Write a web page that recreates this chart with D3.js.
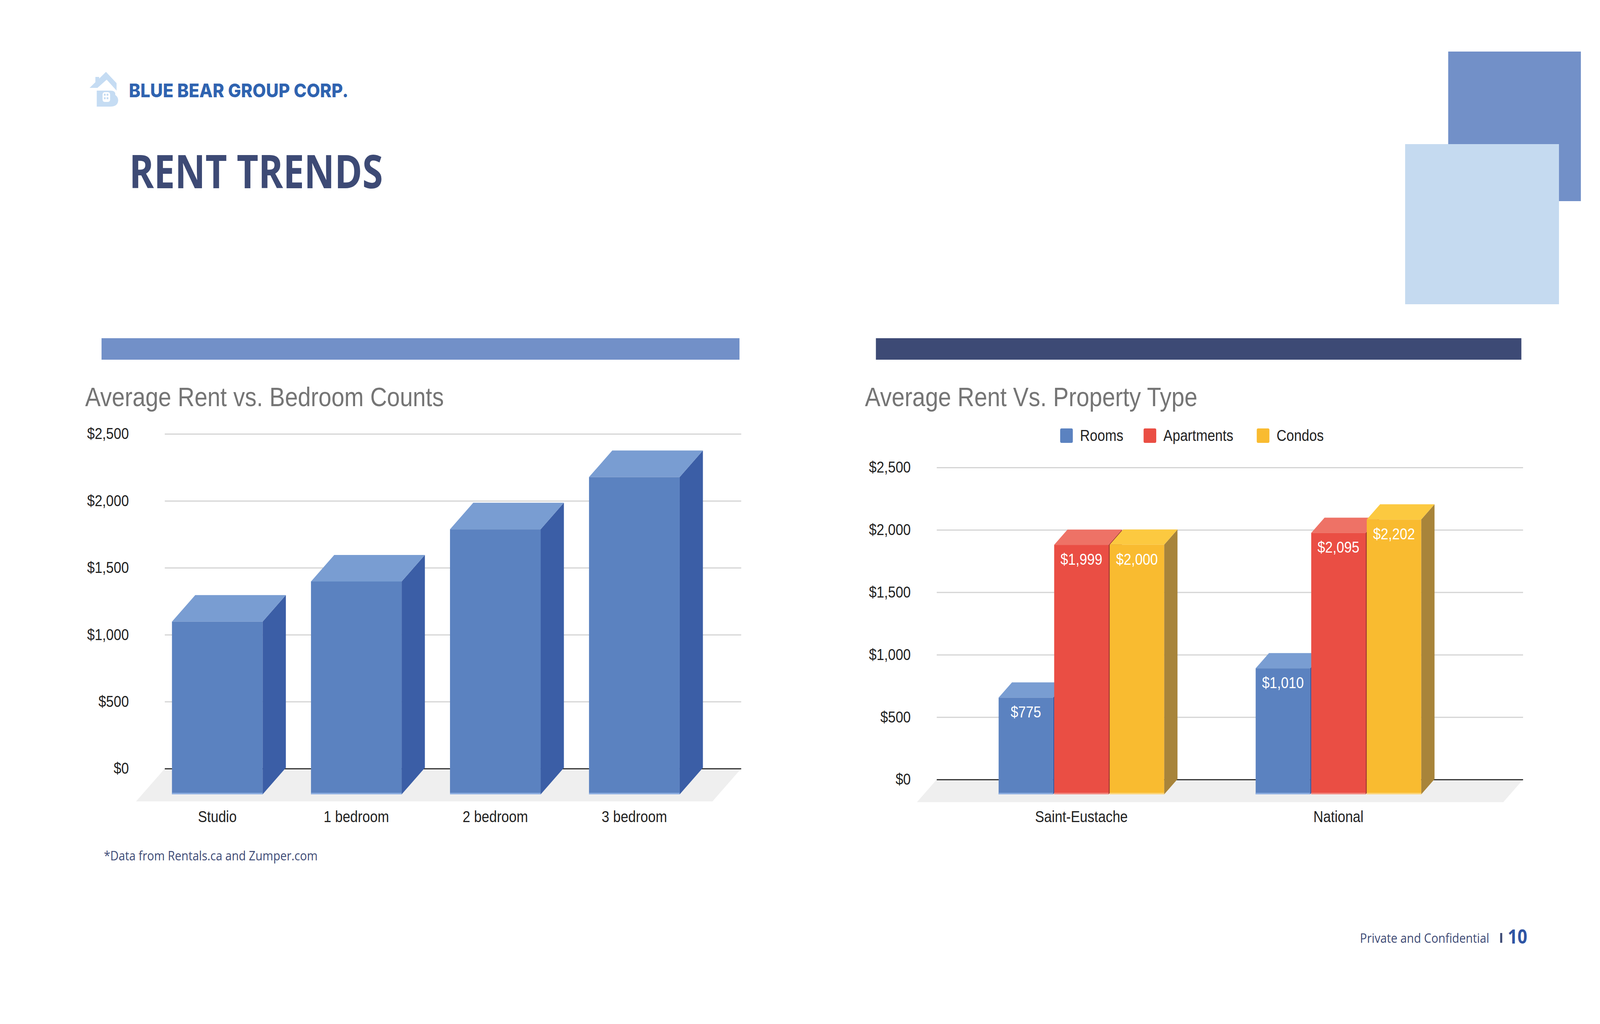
<!DOCTYPE html>
<html>
<head>
<meta charset="utf-8">
<script src="https://cdn.jsdelivr.net/npm/d3@7"></script>
<style>
html,body{margin:0;padding:0;background:#fff;overflow:hidden}
#chart svg{display:block;width:100vw;height:100vh}
</style>
</head>
<body>
<div id="chart"></div>
<script>
const W = 4680, H = 2622;

// data
const bedrooms = ["Studio", "1 bedroom", "2 bedroom", "3 bedroom"];
const bedroomRent = [1290, 1590, 1980, 2370];

const places = ["Saint-Eustache", "National"];
const types = ["Rooms", "Apartments", "Condos"];
const rooms = [775, 1010];
const apartments = [1999, 2095];
const condos = [2000, 2202];

const rentTicks = [0, 500, 1000, 1500, 2000, 2500];

const FONT = "'Liberation Sans', Arial, sans-serif";
const money = d3.format("$,");

// the slide fills the whole window
const svg = d3.select("#chart").append("svg")
  .attr("viewBox", `0 0 ${W} ${H}`)
  .attr("preserveAspectRatio", "none");

svg.append("rect").attr("width", W).attr("height", H).attr("fill", "#fff");

// ---- slide decoration ----
svg.append("rect").attr("x", 4236).attr("y", 132).attr("width", 388).attr("height", 383).attr("fill", "#7290c8");
svg.append("rect").attr("x", 4110).attr("y", 369).attr("width", 450).attr("height", 410).attr("fill", "#c5daf0");
svg.append("rect").attr("x", 297).attr("y", 866).attr("width", 1866).attr("height", 55).attr("fill", "#7290c8");
svg.append("rect").attr("x", 2562).attr("y", 866).attr("width", 1888).attr("height", 55).attr("fill", "#3d4a75");

// logo: house roof over a "B"
const logo = svg.append("g").attr("fill", "#c5dcf3");
logo.append("polygon").attr("points", "262,225 310,184 341,213 341,232 312,204 285,225");
logo.append("rect").attr("x", 279).attr("y", 197).attr("width", 11).attr("height", 16);
logo.append("path").attr("d", "M283,232 H322 Q339,232 337,243 Q348,250 345,261 Q342,273 322,273 H283 Z");
logo.append("rect").attr("x", 300).attr("y", 236).attr("width", 22).attr("height", 25).attr("rx", 6).attr("fill", "#fff");
[[304, 240], [312, 240], [304, 249], [312, 249]].forEach(p =>
  logo.append("rect").attr("x", p[0]).attr("y", p[1]).attr("width", 5).attr("height", 5).attr("fill", "#c5dcf3"));

svg.append("text").attr("x", 377).attr("y", 249)
  .attr("font-family", "Inter, 'Open Sans', sans-serif").attr("font-weight", 800)
  .attr("font-size", 48).attr("fill", "#2f63b0")
  .attr("textLength", 642).attr("lengthAdjust", "spacingAndGlyphs")
  .text("BLUE BEAR GROUP CORP.");

svg.append("text").attr("x", 378).attr("y", 482)
  .attr("font-family", "'Open Sans', sans-serif").attr("font-weight", 700)
  .attr("font-size", 118).attr("fill", "#3d4a75")
  .attr("textLength", 742).attr("lengthAdjust", "spacingAndGlyphs")
  .text("RENT TRENDS");

svg.append("text").attr("x", 304).attr("y", 2203)
  .attr("font-family", "'Open Sans', sans-serif").attr("font-size", 32).attr("fill", "#3d4a75")
  .attr("textLength", 625).attr("lengthAdjust", "spacingAndGlyphs")
  .text("*Data from Rentals.ca and Zumper.com");

svg.append("text").attr("x", 3978).attr("y", 2414)
  .attr("font-family", "'Open Sans', sans-serif").attr("font-size", 33).attr("fill", "#3d4a75")
  .attr("textLength", 378).attr("lengthAdjust", "spacingAndGlyphs")
  .text("Private and Confidential");
svg.append("rect").attr("x", 4388).attr("y", 2389).attr("width", 6).attr("height", 25).attr("fill", "#3d4a75");
svg.append("text").attr("x", 4410).attr("y", 2416)
  .attr("font-family", "'Open Sans', sans-serif").attr("font-weight", 700)
  .attr("font-size", 50).attr("fill", "#2f55a4").text("10");

// ---- helpers ----
function bar3d(g, x, w, yTop, yBot, d, c) {
  g.append("polygon")
    .attr("points", [[x + w, yTop], [x + w + d, yTop - d], [x + w + d, yBot - d], [x + w, yBot]].join(" "))
    .attr("fill", c.side);
  g.append("polygon")
    .attr("points", [[x, yTop], [x + d, yTop - d], [x + w + d, yTop - d], [x + w, yTop]].join(" "))
    .attr("fill", c.top);
  g.append("rect").attr("x", x).attr("y", yTop).attr("width", w).attr("height", yBot - yTop).attr("fill", c.front);
  g.append("rect").attr("x", x).attr("y", yBot - 4).attr("width", w).attr("height", 4).attr("fill", c.edge);
}

function frame(g, y, gx0, gx1, floorDepth, pad) {
  const y0 = y(0);
  g.append("polygon")
    .attr("points", [[gx0, y0], [gx1, y0], [gx1 - floorDepth, y0 + floorDepth], [gx0 - floorDepth, y0 + floorDepth]].join(" "))
    .attr("fill", "#efefef");
  const ax = g.append("g").attr("transform", `translate(${gx0},0)`)
    .call(d3.axisLeft(y).tickValues(rentTicks).tickFormat(money).tickSize(-(gx1 - gx0)).tickPadding(pad));
  ax.select(".domain").remove();
  ax.selectAll(".tick line").attr("stroke", d => d === 0 ? "#333" : "#d4d4d4").attr("stroke-width", 3);
  ax.selectAll(".tick text").attr("font-family", FONT).attr("font-size", 40).attr("fill", "#222");
}

function catAxis(g, x, yBase) {
  const ax = g.append("g").attr("transform", `translate(0,${yBase})`)
    .call(d3.axisBottom(x).tickSize(0).tickPadding(0));
  ax.select(".domain").remove();
  ax.selectAll(".tick text").attr("y", 0).attr("dy", 0)
    .attr("font-family", FONT).attr("font-size", 40).attr("fill", "#222");
}

function title(g, x, y, t) {
  g.append("text").attr("x", x).attr("y", y)
    .attr("font-family", FONT).attr("font-size", 68).attr("fill", "#757575").text(t);
}

const blue = {front: "#5b82c0", top: "#799dd2", side: "#3b5ea6", edge: "#8eaee0"};
const red = {front: "#ea4e44", top: "#ee7266", side: "#a83a32", edge: "#f28a82"};
const gold = {front: "#f9bb30", top: "#fcc940", side: "#a8843a", edge: "#fcd57a"};

// ---- chart 1: bedrooms ----
const g1 = svg.append("g");
title(g1, 249, 1040, "Average Rent vs. Bedroom Counts");

const y1 = d3.scaleLinear().domain([0, 2500]).range([1968, 1111]);
frame(g1, y1, 482, 2168, 84, 105);

const x1 = d3.scaleBand().domain(bedrooms).range([503, 1988]).paddingInner(0.348).paddingOuter(0);
const zf1 = 66, d1 = 68;
bedrooms.forEach((b, i) => {
  bar3d(g1, x1(b), x1.bandwidth(), y1(bedroomRent[i]) + zf1, y1(0) + zf1, d1, blue);
});
catAxis(g1, x1, 2105);

// ---- chart 2: property type ----
const g2 = svg.append("g");
title(g2, 2530, 1040, "Average Rent Vs. Property Type");

// legend
const legendColors = [blue, red, gold];
const legendX = [3101, 3345, 3676];
types.forEach((t, i) => {
  g2.append("rect").attr("x", legendX[i]).attr("y", 1097).attr("width", 37).attr("height", 37)
    .attr("rx", 4).attr("fill", legendColors[i].front);
  g2.append("text").attr("x", legendX[i] + 58).attr("y", 1129)
    .attr("font-family", FONT).attr("font-size", 40).attr("fill", "#222").text(t);
});

const y2 = d3.scaleLinear().domain([0, 2500]).range([1996, 1197]);
frame(g2, y2, 2740, 4455, 58, 76);

const x2 = d3.scaleBand().domain(places).range([2921, 4157]).paddingInner(0.356).paddingOuter(0);
const xs = d3.scaleBand().domain(types).range([0, x2.bandwidth()]).paddingInner(0.02);
const series = [rooms, apartments, condos];
const zf2 = 38, d2 = 39;
places.forEach((p, i) => {
  types.forEach((t, k) => {
    const v = series[k][i];
    const bx = x2(p) + xs(t), bw = xs.bandwidth();
    const top = y2(v) + zf2;
    bar3d(g2, bx, bw, top, y2(0) + zf2, d2, legendColors[k]);
    g2.append("text").attr("x", bx + bw / 2).attr("y", top + 51)
      .attr("text-anchor", "middle").attr("font-family", FONT).attr("font-size", 40)
      .attr("fill", "#fff").text(money(v));
  });
});
catAxis(g2, x2, 2105);
</script>
</body>
</html>
